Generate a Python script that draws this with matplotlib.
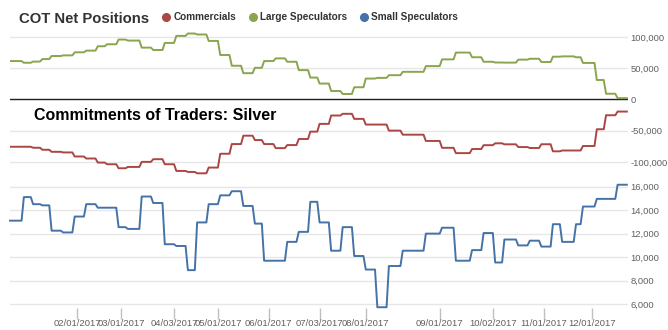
import numpy as np
import matplotlib
matplotlib.use("Agg")
import matplotlib.pyplot as plt
from matplotlib.lines import Line2D
from matplotlib.ticker import FuncFormatter

plt.rcParams['font.family'] = ['Liberation Sans', 'DejaVu Sans']

# row (trading-day index on the chart's category axis) where each weekly COT value starts
report_row = [0, 6, 10, 14, 18, 23, 28, 33, 38, 42, 47, 51, 57, 62, 67, 72, 77, 81, 86, 91,
              96, 101, 106, 110, 115, 120, 125, 130, 134, 139, 144, 149, 154, 159, 164, 170,
              180, 187, 193, 200, 205, 210, 214, 220, 225, 230, 235, 239, 245, 248, 254, 258, 263]
n_rows = 268

commercials = [-75800, -75800, -77400, -80600, -83900, -84900, -91400, -94600, -101100, -103800,
               -110200, -108100, -100000, -95700, -103800, -114500, -116100, -118300, -109100, -87000,
               -71500, -58100, -65100, -71500, -78000, -73100, -63400, -51600, -39200, -25800,
               -23100, -31200, -40300, -40300, -50000, -56500, -66500, -77500, -86000, -79400,
               -73300, -70300, -71900, -76300, -77800, -71800, -83100, -81800, -81800, -74600,
               -47800, -25400, -19500]
large_specs = [61300, 58600, 60500, 64500, 69400, 70400, 75300, 78000, 85000, 88200,
               95700, 94100, 82800, 79000, 90300, 101600, 105400, 103800, 93500, 71000,
               53800, 41900, 50500, 61300, 65600, 60200, 46800, 34900, 25300, 13400,
               8600, 19400, 33300, 34400, 38700, 44100, 53200, 64000, 74900, 67400,
               60200, 59000, 58800, 63600, 65000, 59800, 68300, 68800, 67400, 58300,
               31000, 9000, 2000]
small_specs = [13100, 15100, 14500, 14400, 12250, 12100, 13450, 14500, 14200, 14200,
               12550, 12400, 15150, 14600, 11100, 10950, 8900, 12950, 14500, 15250,
               15600, 14350, 12850, 9700, 9700, 11300, 12150, 14700, 12950, 10550,
               12550, 10100, 8950, 5750, 9250, 10550, 12000, 12500, 9700, 10600,
               12050, 9550, 11500, 11000, 11400, 10900, 12800, 11300, 12800, 14300,
               14950, 14950, 16150]

tick_rows = [29, 48, 71, 90, 112, 134, 154, 186, 209, 231, 252]
tick_labels = ['02/01/2017', '03/01/2017', '04/03/2017', '05/01/2017', '06/01/2017',
               '07/03/2017', '08/01/2017', '09/01/2017', '10/02/2017', '11/01/2017', '12/01/2017']

RED = '#AA4643'
GREEN = '#89A54E'
BLUE = '#4572A7'


def daily(values):
    lengths = np.diff(report_row + [n_rows])
    return np.repeat(values, lengths)


rows = np.arange(n_rows)
W, H = 668, 330
fig = plt.figure(figsize=(W / 100, H / 100), dpi=100)
ax1 = fig.add_axes([10 / W, (H - 175) / H, 618 / W, 147 / H])
ax2 = fig.add_axes([10 / W, (H - 308) / H, 618 / W, 130 / H])

comma = FuncFormatter(lambda v, p: f'{v:,.0f}')

for ax in (ax1, ax2):
    for s in ax.spines.values():
        s.set_visible(False)
    ax.set_xlim(0, n_rows - 0.5)
    ax.yaxis.tick_right()
    ax.yaxis.grid(True, color='#e6e6e6', lw=1)
    ax.set_axisbelow(True)
    ax.yaxis.set_major_formatter(comma)
    ax.tick_params(axis='y', length=0, pad=2, labelsize=6.8, labelcolor='#606060')

ax1.plot(rows, daily(large_specs), color=GREEN, lw=1.4, solid_joinstyle='round', zorder=3)
ax1.plot(rows, daily(commercials), color=RED, lw=1.4, solid_joinstyle='round', zorder=3)
ax1.axhline(0, color='#222222', lw=1, zorder=2)
ax1.set_ylim(-121000, 114200)
ax1.set_yticks([-100000, -50000, 0, 50000, 100000])
ax1.set_xticks([])

ax2.plot(rows, daily(small_specs), color=BLUE, lw=1.4, solid_joinstyle='round', zorder=3, clip_on=False)
ax2.set_ylim(5686, 16722)
ax2.set_yticks(range(6000, 16001, 2000))
ax2.set_xticks(tick_rows)
ax2.set_xticklabels(tick_labels)
ax2.tick_params(axis='x', direction='out', length=8, color='#c0c0c0', width=1,
                labelsize=6.8, labelcolor='#606060', pad=0)

fig.text(19 / W, 1 - 23 / H, 'COT Net Positions', fontsize=10.7, fontweight='bold',
         color='#333333', va='baseline', ha='left')
fig.text(34 / W, 1 - 120 / H, 'Commitments of Traders: Silver', fontsize=11.5,
         fontweight='bold', color='black', va='baseline', ha='left')

legend_items = [('Commercials', RED, 166, 173.5), ('Large Speculators', GREEN, 253, 260),
                ('Small Speculators', BLUE, 364, 371.5)]
for label, col, mx, tx in legend_items:
    fig.add_artist(Line2D([mx / W], [1 - 16.7 / H], marker='o', markersize=5.5, color=col,
                          lw=0, transform=fig.transFigure))
    fig.text(tx / W, 1 - 20 / H, label, fontsize=7.2, fontweight='bold', color='#333333',
             va='baseline', ha='left')

fig.savefig('out.png', dpi=100)
